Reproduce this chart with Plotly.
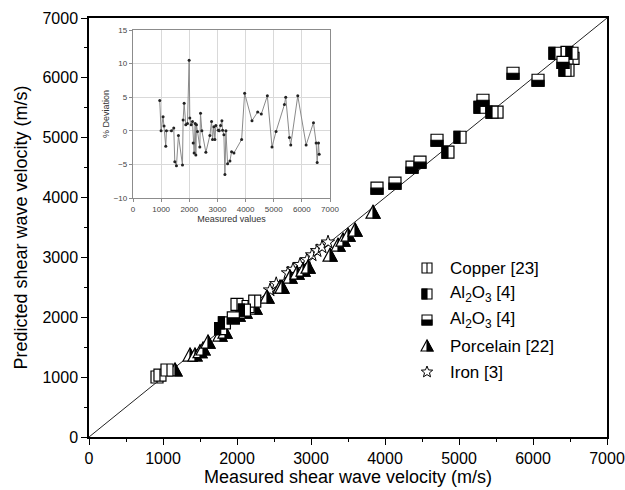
import math
import plotly.graph_objects as go

# ---------------- data ----------------
AXIS_MAX = 7000

copper_meas = [919, 959, 1054, 2000, 2150, 2240, 5514, 6459, 6541, 6473]
copper_pred = [1002, 1035, 1119, 2215, 2180, 2270, 5426, 6427, 6327, 6127]

al_left_meas = [1780, 1830, 2100, 4851, 5014, 5284, 5446, 6297, 6527, 6432]
al_left_pred = [1810, 1905, 2120, 4758, 5008, 5509, 5426, 6411, 6411, 6127]

al_bottom_meas = [1950, 3892, 4135, 4365, 4473, 4703, 5324, 5730, 6068, 6405]
al_bottom_pred = [1990, 4157, 4240, 4508, 4591, 4958, 5626, 6077, 5960, 6260]

porc_meas = [1162, 1365, 1432, 1500, 1541, 1608, 1770, 1838, 2014, 2108, 2243, 2405,
             2581, 2608, 2716, 2811, 2892, 2960, 3257, 3365, 3432, 3500, 3595, 3838]
porc_pred = [1120, 1369, 1370, 1425, 1470, 1586, 1703, 1753, 2037, 2087, 2154, 2337,
             2504, 2504, 2671, 2738, 2788, 2838, 3038, 3205, 3289, 3372, 3456, 3756]

iron_meas = [2446, 2530, 2689, 2757, 2851, 2946, 3014, 3081, 3149, 3230]
iron_pred = [2454, 2560, 2740, 2800, 2880, 2960, 3040, 3110, 3172, 3255]

inset_x = [950, 998, 1069, 1104, 1164, 1188, 1366, 1449, 1485, 1544, 1615, 1758, 1781,
           1817, 1876, 1936, 1995, 2019, 2066, 2114, 2138, 2173, 2209, 2233, 2256, 2292,
           2375, 2399, 2447, 2589, 2731, 2791, 2826, 2874, 2910, 2945, 3028, 3064, 3112,
           3159, 3183, 3230, 3266, 3302, 3361, 3444, 3503, 3587, 3860, 3967, 4228, 4430,
           4560, 4774, 4940, 5083, 5380, 5427, 5558, 5605, 5855, 6152, 6413, 6508, 6544,
           6591, 6615]
inset_dev = [4.5, 0.0, 2.1, 0.7, -2.3, 0.0, 0.0, 0.4, -4.6, -5.2, -0.7, -5.1, 1.6,
             4.1, 0.9, 1.1, 10.5, 1.9, 0.9, 1.4, -1.8, -3.3, 1.1, -3.6, 0.9, -0.1,
             -2.4, 2.6, 0.0, -3.2, -0.7, 1.4, -1.3, 0.6, -1.3, 0.8, 0.1, 0.0, 0.8,
             1.5, 0.1, -0.6, -6.5, 0.0, -4.9, -4.5, -3.1, -3.3, -1.3, 5.6, 1.5, 2.8,
             2.5, 5.2, -2.4, -0.1, 3.9, 5.0, -1.0, -2.1, 5.2, -2.1, 1.2, -1.8, -4.7,
             -1.8, -3.5]

legend_labels = ["Copper [23]", "Al<sub>2</sub>O<sub>3</sub> [4]", "Al<sub>2</sub>O<sub>3</sub> [4]",
                 "Porcelain [22]", "Iron [3]"]

FONT = "Liberation Sans, Arial, sans-serif"

# ---------------- marker helpers (pixel-sized shapes anchored at data) ----------------
def base(ref_x, ref_y, ax, ay):
    return dict(xref=ref_x, yref=ref_y, xsizemode="pixel", ysizemode="pixel",
                xanchor=ax, yanchor=ay, layer="above")

def square_shapes(ax, ay, kind, h=6, ref=("x", "y"), lw=1.2):
    out = []
    b = base(ref[0], ref[1], ax, ay)
    out.append(dict(type="rect", x0=-h, x1=h, y0=-h, y1=h, fillcolor="white",
                    line=dict(color="black", width=lw), **b))
    if kind == "copper":
        out.append(dict(type="line", x0=0, x1=0, y0=-h, y1=h,
                        line=dict(color="black", width=lw), **b))
    elif kind == "left":
        out.append(dict(type="rect", x0=-h, x1=0, y0=-h, y1=h, fillcolor="black",
                        line=dict(color="black", width=lw), **b))
    elif kind == "bottom":
        out.append(dict(type="rect", x0=-h, x1=h, y0=-h, y1=0, fillcolor="black",
                        line=dict(color="black", width=lw), **b))
    return out

def tri_shapes(ax, ay, w=7, hb=6, ht=7, ref=("x", "y"), lw=1.2):
    b = base(ref[0], ref[1], ax, ay)
    full = f"M{-w},{-hb} L{w},{-hb} L0,{ht} Z"
    half = f"M0,{-hb} L{w},{-hb} L0,{ht} Z"
    return [dict(type="path", path=full, fillcolor="white",
                 line=dict(color="black", width=lw), **b),
            dict(type="path", path=half, fillcolor="black",
                 line=dict(color="black", width=lw), **b)]

def star_path(ro, ri):
    pts = []
    for k in range(10):
        r = ro if k % 2 == 0 else ri
        a = math.pi / 2 + k * math.pi / 5
        pts.append((r * math.cos(a), r * math.sin(a)))
    return "M" + " L".join(f"{px:.2f},{py:.2f}" for px, py in pts) + " Z"

shapes = []
for xv, yv in zip(porc_meas, porc_pred):
    shapes += tri_shapes(xv, yv)
for xv, yv in zip(copper_meas, copper_pred):
    shapes += square_shapes(xv, yv, "copper")
for xv, yv in zip(al_left_meas, al_left_pred):
    shapes += square_shapes(xv, yv, "left")
for xv, yv in zip(al_bottom_meas, al_bottom_pred):
    shapes += square_shapes(xv, yv, "bottom")

# ---------------- figure ----------------
fig = go.Figure()

fig.add_trace(go.Scatter(x=[0, AXIS_MAX], y=[0, AXIS_MAX], mode="lines",
                         line=dict(color="#222222", width=1), showlegend=False,
                         hoverinfo="skip"))

fig.add_trace(go.Scatter(x=iron_meas, y=iron_pred, mode="markers", name="Iron [3]",
                         marker=dict(symbol="star", size=10, color="white",
                                     line=dict(color="black", width=1)),
                         showlegend=False))

fig.add_trace(go.Scatter(x=inset_x, y=inset_dev, mode="lines+markers",
                         xaxis="x2", yaxis="y2",
                         line=dict(color="#8a8a8a", width=1),
                         marker=dict(size=3, color="#222222"),
                         showlegend=False))

# ---------------- layout geometry (body margin removed -> page == figure) ----------------
W, H = 625, 490
ML, MR, MT, MB = 89, 18, 18, 53
pw, ph = W - ML - MR, H - MT - MB

def px2paper(px, py):
    return (px - ML) / pw, (H - MB - py) / ph

leg_px_marker = 427
leg_px_text = 448
leg_rows = [268, 294, 320, 346, 372]
annotations = []
for i, (lab, row) in enumerate(zip(legend_labels, leg_rows)):
    mx, my = px2paper(leg_px_marker, row)
    ref = ("paper", "paper")
    if i == 0:
        shapes += square_shapes(mx, my, "copper", h=5, ref=ref, lw=1.1)
    elif i == 1:
        shapes += square_shapes(mx, my, "left", h=5, ref=ref, lw=1.1)
    elif i == 2:
        shapes += square_shapes(mx, my, "bottom", h=5, ref=ref, lw=1.1)
    elif i == 3:
        shapes += tri_shapes(mx, my, w=6, hb=5, ht=6, ref=ref, lw=1.1)
    else:
        shapes.append(dict(type="path", path=star_path(6, 2.6), fillcolor="white",
                           line=dict(color="black", width=1), **base("paper", "paper", mx, my)))
    tx, ty = px2paper(leg_px_text, row)
    annotations.append(dict(x=tx, y=ty, xref="paper", yref="paper", text=lab,
                            showarrow=False, xanchor="left", yanchor="middle",
                            font=dict(family=FONT, size=17, color="black")))

ix0, iy1 = px2paper(133, 30)
ix1, iy0 = px2paper(330, 198)

axis_common = dict(showline=True, linecolor="black", linewidth=1.5, mirror=True,
                   ticks="outside", ticklen=6, tickwidth=1.3, tickcolor="black",
                   showgrid=False, zeroline=False, automargin=False,
                   tickfont=dict(family=FONT, size=16, color="black"),
                   minor=dict(ticks="outside", ticklen=3, tickwidth=1.2,
                              tickcolor="black", dtick=500, showgrid=False))

inset_common = dict(showline=True, linecolor="#8c8c8c", linewidth=1.3, mirror=True,
                    ticks="outside", ticklen=3, tickwidth=1, tickcolor="#8c8c8c",
                    showgrid=True, gridcolor="#d9d9d9", gridwidth=1, zeroline=False,
                    automargin=False,
                    tickfont=dict(family=FONT, size=8, color="#444444"))

fig.update_layout(
    width=W, height=H,
    margin=dict(l=ML, r=MR, t=MT, b=MB, autoexpand=False),
    paper_bgcolor="white", plot_bgcolor="white",
    font=dict(family=FONT, color="black"),
    showlegend=False,
    xaxis=dict(domain=[0, 1], range=[0, AXIS_MAX], tick0=0, dtick=1000,
               title=dict(text="Measured shear wave velocity (m/s)",
                          font=dict(family=FONT, size=18), standoff=4),
               **axis_common),
    yaxis=dict(domain=[0, 1], range=[0, AXIS_MAX], tick0=0, dtick=1000,
               title=dict(text="Predicted shear wave velocity (m/s)",
                          font=dict(family=FONT, size=18), standoff=10),
               **axis_common),
    xaxis2=dict(domain=[ix0, ix1], anchor="y2", range=[0, 7000], tick0=0, dtick=1000,
                title=dict(text="Measured values", font=dict(family=FONT, size=9, color="#333333"),
                           standoff=2),
                **inset_common),
    yaxis2=dict(domain=[iy0, iy1], anchor="x2", range=[-10, 15], tick0=-10, dtick=5,
                title=dict(text="% Deviation", font=dict(family=FONT, size=9, color="#333333"),
                           standoff=2),
                **inset_common),
    shapes=shapes,
    annotations=annotations,
)

fig.write_html("out.html",
               config={"displayModeBar": False},
               post_script="document.body.style.margin='0px';"
                           "document.body.style.overflow='hidden';")
